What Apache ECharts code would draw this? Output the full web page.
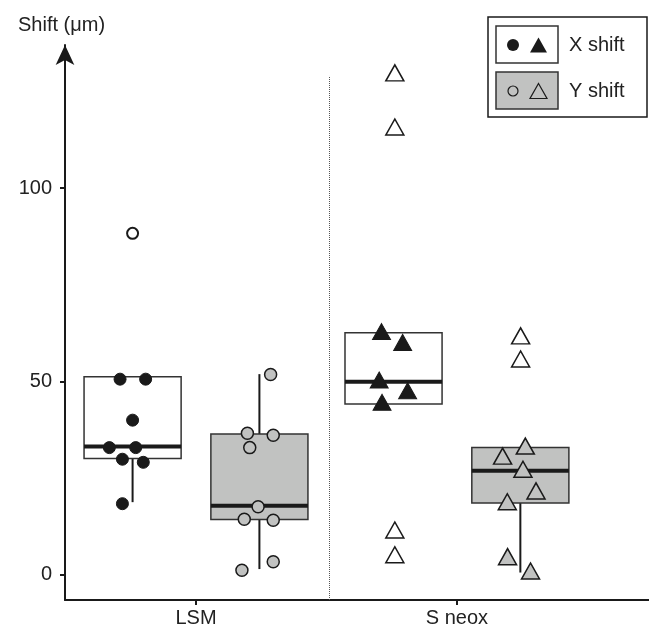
<!DOCTYPE html>
<html>
<head>
<meta charset="utf-8">
<script src="https://cdn.jsdelivr.net/npm/echarts@6/dist/echarts.min.js"></script>
<style>
    html, body { margin: 0; padding: 0; background: #fff; }
    #chart { width: 649px; height: 628px; }
</style>
</head>
<body>
<div id="chart"></div>
<script>
// 组别
const categories = ['LSM', 'S neox'];
const yTicks = [0, 50, 100];

// 箱线图统计量 [min, q1, median, q3, max]
const boxXShift = [[18.8, 30.1, 33.2, 51.2, 51.2], [44.2, 44.2, 49.9, 62.6, 62.6]];
const boxYShift = [[1.5, 14.3, 17.9, 36.4, 51.9], [0.6, 18.6, 26.9, 32.9, 32.9]];

// 原始点 (值 + 抖动偏移)
const lsmX = [50.6, 50.6, 40.0, 32.9, 32.9, 29.9, 29.1, 18.4];
const lsmXJitter = [-0.291, -0.193, -0.243, -0.332, -0.231, -0.282, -0.202, -0.282];
const lsmXOut = [88.3];
const lsmXOutJitter = [-0.243];
const lsmY = [51.8, 36.6, 36.1, 32.9, 17.6, 14.4, 14.1, 3.4, 1.2];
const lsmYJitter = [0.286, 0.197, 0.296, 0.206, 0.238, 0.185, 0.296, 0.296, 0.176];

const sneoxX = [62.9, 60.1, 50.4, 47.6, 44.6];
const sneoxXJitter = [-0.289, -0.208, -0.298, -0.189, -0.287];
const sneoxXOut = [129.8, 115.8, 11.6, 5.2];
const sneoxXOutJitter = [-0.238, -0.238, -0.238, -0.238];
const sneoxY = [33.3, 30.7, 27.3, 21.7, 18.9, 4.7, 1.0];
const sneoxYJitter = [0.262, 0.175, 0.253, 0.303, 0.193, 0.194, 0.282];
const sneoxYOut = [61.8, 55.8];
const sneoxYOutJitter = [0.244, 0.244];

const boxOffset = 0.243;
const boxWidth = 0.372;
const grey = '#c1c2c1';
const dark = '#1a1a1a';
const fontFamily = '"Liberation Sans", Arial, sans-serif';

let chart = echarts.init(document.getElementById('chart'));

function pts(vals, jitter, groupIndex) {
    return vals.map((v, i) => [groupIndex + 1 + jitter[i], v]);
}

// 箱体数据: [x, min, q1, med, q3, max, fill]
let boxData = [];
categories.forEach((c, i) => {
    boxData.push([i + 1 - boxOffset].concat(boxXShift[i], [0]));
    boxData.push([i + 1 + boxOffset].concat(boxYShift[i], [1]));
});

function renderBox(params, api) {
    const x = api.value(0);
    const lo = api.coord([x, api.value(1)]);
    const q1 = api.coord([x, api.value(2)]);
    const md = api.coord([x, api.value(3)]);
    const q3 = api.coord([x, api.value(4)]);
    const hi = api.coord([x, api.value(5)]);
    const half = api.size([boxWidth, 0])[0] / 2;
    const fill = api.value(6) === 1 ? grey : '#fff';
    const children = [];
    if (lo[1] - q1[1] > 0.5) {
        children.push({ type: 'line', shape: { x1: lo[0], y1: lo[1], x2: q1[0], y2: q1[1] }, style: { stroke: dark, lineWidth: 2 } });
    }
    if (q3[1] - hi[1] > 0.5) {
        children.push({ type: 'line', shape: { x1: hi[0], y1: hi[1], x2: q3[0], y2: q3[1] }, style: { stroke: dark, lineWidth: 2 } });
    }
    children.push({ type: 'rect', shape: { x: q3[0] - half, y: q3[1], width: half * 2, height: q1[1] - q3[1] }, style: { fill: fill, stroke: '#333', lineWidth: 1.5 } });
    children.push({ type: 'line', shape: { x1: md[0] - half, y1: md[1], x2: md[0] + half, y2: md[1] }, style: { stroke: dark, lineWidth: 4 } });
    return { type: 'group', children: children };
}

function scatter(data, symbol, size, fill, stroke, bw) {
    return {
        type: 'scatter',
        data: data,
        symbol: symbol,
        symbolSize: size,
        z: 5,
        itemStyle: { color: fill, borderColor: stroke, borderWidth: bw, opacity: 1 }
    };
}

const circle = 12;
const tri = [18, 16];

let option = {
    animation: false,
    title: {
        text: 'Shift (μm)',
        left: 13,
        top: 10,
        textStyle: { fontFamily: fontFamily, fontSize: 20, fontWeight: 'normal', color: '#222' }
    },
    grid: { left: 65, right: 0, top: 45, bottom: 28, containLabel: false },
    xAxis: {
        type: 'value',
        min: 0.498,
        max: 2.736,
        splitLine: { show: false },
        axisLine: { onZero: false, lineStyle: { color: dark, width: 2 } },
        axisTick: { customValues: [1, 2], length: 5, lineStyle: { color: dark, width: 2 } },
        axisLabel: {
            customValues: [1, 2],
            formatter: (v) => categories[Math.round(v) - 1],
            margin: 8,
            color: '#222',
            fontSize: 20,
            fontFamily: fontFamily
        }
    },
    yAxis: {
        type: 'value',
        min: -6.5,
        max: 137,
        splitLine: { show: false },
        axisLine: {
            show: true,
            onZero: false,
            symbol: ['none', 'arrow'],
            symbolSize: [14, 20],
            lineStyle: { color: dark, width: 2 }
        },
        axisTick: { show: true, customValues: yTicks, length: 5, lineStyle: { color: dark, width: 2 } },
        axisLabel: {
            customValues: yTicks,
            margin: 13,
            color: '#222',
            fontSize: 20,
            fontFamily: fontFamily
        }
    },
    series: [
        {
            type: 'custom',
            renderItem: renderBox,
            data: boxData,
            z: 2,
            markLine: {
                silent: true,
                symbol: 'none',
                label: { show: false },
                lineStyle: { color: '#555', type: 'dotted', width: 1 },
                data: [[{ coord: [1.51, -6.5] }, { coord: [1.51, 129] }]]
            }
        },
        scatter(pts(lsmX, lsmXJitter, 0), 'circle', circle, dark, dark, 1),
        scatter(pts(lsmXOut, lsmXOutJitter, 0), 'circle', 11, '#fff', dark, 2),
        scatter(pts(lsmY, lsmYJitter, 0), 'circle', circle, grey, dark, 1.5),
        scatter(pts(sneoxX, sneoxXJitter, 1), 'triangle', tri, dark, dark, 1),
        scatter(pts(sneoxXOut, sneoxXOutJitter, 1), 'triangle', tri, '#fff', dark, 1.5),
        scatter(pts(sneoxY, sneoxYJitter, 1), 'triangle', tri, grey, dark, 1.5),
        scatter(pts(sneoxYOut, sneoxYOutJitter, 1), 'triangle', tri, '#fff', dark, 1.5)
    ],
    // 图例
    graphic: [
        { type: 'rect', shape: { x: 488, y: 17, width: 159, height: 100 }, style: { fill: '#fff', stroke: dark, lineWidth: 1.5 } },
        { type: 'rect', shape: { x: 496, y: 26, width: 62, height: 37 }, style: { fill: '#fff', stroke: '#333', lineWidth: 1.5 } },
        { type: 'rect', shape: { x: 496, y: 72, width: 62, height: 37 }, style: { fill: grey, stroke: '#333', lineWidth: 1.5 } },
        { type: 'circle', shape: { cx: 513, cy: 45, r: 6 }, style: { fill: dark } },
        { type: 'polygon', shape: { points: [[538.5, 37.5], [547, 52.5], [530, 52.5]] }, style: { fill: dark } },
        { type: 'circle', shape: { cx: 513, cy: 91, r: 5 }, style: { fill: 'none', stroke: dark, lineWidth: 1.2 } },
        { type: 'polygon', shape: { points: [[538.5, 83.5], [547, 98.5], [530, 98.5]] }, style: { fill: 'none', stroke: dark, lineWidth: 1.2 } },
        { type: 'text', x: 569, y: 45, style: { text: 'X shift', fill: '#222', font: '20px ' + fontFamily, verticalAlign: 'middle' } },
        { type: 'text', x: 569, y: 91, style: { text: 'Y shift', fill: '#222', font: '20px ' + fontFamily, verticalAlign: 'middle' } }
    ]
};
chart.setOption(option);
</script>
</body>
</html>
